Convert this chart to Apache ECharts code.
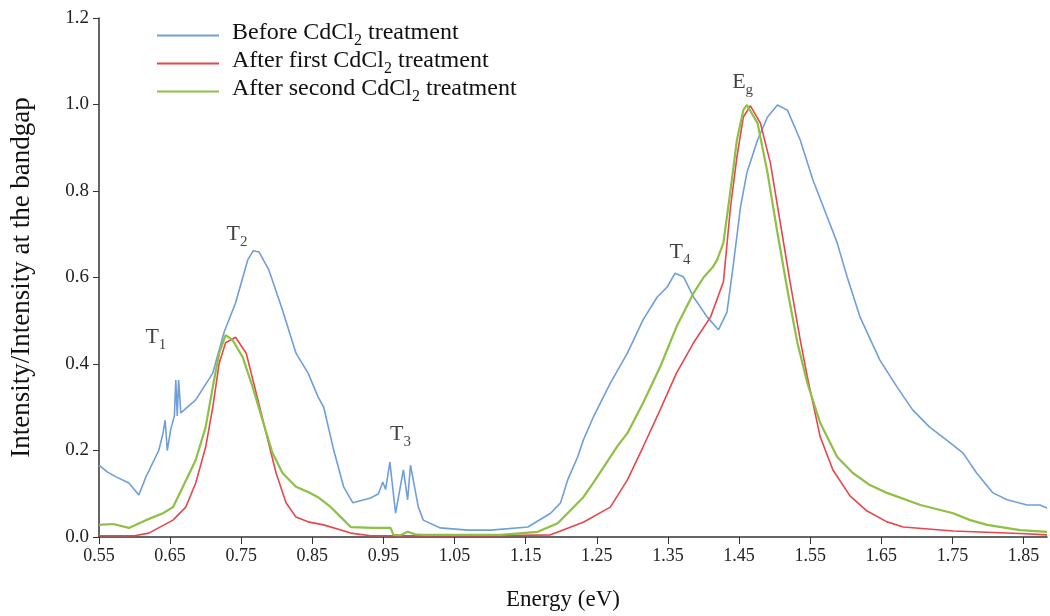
<!DOCTYPE html>
<html>
<head>
<meta charset="utf-8">
<script src="https://cdn.jsdelivr.net/npm/echarts@6/dist/echarts.min.js"></script>
<style>html,body{margin:0;padding:0;background:#fff}#c{width:1050px;height:616px}</style>
</head>
<body>
<div id="c"></div>
<script>
const seriesNames = ['Before CdCl2 treatment', 'After first CdCl2 treatment', 'After second CdCl2 treatment'];
const legendLabels = [['Before CdCl', '2', ' treatment'], ['After first CdCl', '2', ' treatment'], ['After second CdCl', '2', ' treatment']];
const xTicks = [0.55, 0.65, 0.75, 0.85, 0.95, 1.05, 1.15, 1.25, 1.35, 1.45, 1.55, 1.65, 1.75, 1.85];
const yTicks = [0, 0.2, 0.4, 0.6, 0.8, 1.0, 1.2];

const beforeE = [0.550,0.562,0.574,0.592,0.606,0.616,0.634,0.640,0.643,0.646,0.651,0.656,0.658,0.660,0.662,0.665,0.686,0.710,0.726,0.742,0.759,0.767,0.775,0.789,0.808,0.827,0.844,0.858,0.866,0.880,0.894,0.907,0.932,0.943,0.949,0.953,0.959,0.967,0.978,0.984,0.988,0.999,1.006,1.030,1.068,1.101,1.153,1.185,1.199,1.209,1.223,1.231,1.245,1.269,1.293,1.315,1.335,1.349,1.360,1.372,1.386,1.405,1.421,1.433,1.442,1.452,1.461,1.476,1.490,1.504,1.518,1.536,1.554,1.574,1.588,1.602,1.620,1.648,1.672,1.694,1.718,1.742,1.765,1.784,1.807,1.827,1.855,1.873,1.883];
const beforeI = [0.166,0.150,0.139,0.125,0.097,0.139,0.200,0.240,0.270,0.200,0.250,0.280,0.363,0.280,0.363,0.287,0.317,0.379,0.474,0.541,0.640,0.662,0.659,0.617,0.525,0.425,0.379,0.324,0.300,0.201,0.116,0.079,0.090,0.100,0.127,0.110,0.173,0.055,0.155,0.086,0.166,0.069,0.039,0.021,0.016,0.016,0.023,0.055,0.079,0.132,0.185,0.224,0.277,0.356,0.425,0.502,0.555,0.578,0.610,0.601,0.555,0.509,0.479,0.520,0.630,0.763,0.842,0.918,0.971,0.999,0.987,0.918,0.825,0.740,0.680,0.601,0.509,0.409,0.347,0.294,0.254,0.224,0.194,0.148,0.102,0.086,0.074,0.074,0.067];

const firstE = [0.550,0.600,0.620,0.654,0.672,0.686,0.700,0.710,0.719,0.728,0.742,0.757,0.771,0.785,0.799,0.813,0.827,0.844,0.866,0.890,0.904,0.932,1.100,1.185,1.231,1.269,1.293,1.315,1.339,1.362,1.386,1.410,1.428,1.438,1.447,1.456,1.466,1.480,1.494,1.508,1.522,1.536,1.546,1.564,1.582,1.606,1.630,1.658,1.681,1.751,1.845,1.883];
const firstI = [0.003,0.003,0.009,0.039,0.069,0.125,0.208,0.300,0.402,0.449,0.462,0.425,0.333,0.240,0.148,0.079,0.046,0.035,0.028,0.016,0.009,0.003,0.003,0.005,0.034,0.069,0.132,0.208,0.294,0.379,0.449,0.509,0.590,0.763,0.879,0.971,0.997,0.957,0.865,0.726,0.587,0.456,0.370,0.232,0.155,0.095,0.060,0.035,0.023,0.014,0.008,0.005];

const secondE = [0.550,0.570,0.592,0.616,0.640,0.654,0.668,0.686,0.700,0.710,0.719,0.728,0.738,0.752,0.766,0.780,0.794,0.808,0.827,0.844,0.858,0.876,0.890,0.904,0.936,0.960,0.964,0.974,0.984,0.995,1.006,1.115,1.167,1.195,1.231,1.245,1.279,1.293,1.315,1.339,1.362,1.386,1.400,1.413,1.419,1.428,1.438,1.447,1.456,1.461,1.476,1.490,1.504,1.518,1.532,1.546,1.564,1.588,1.610,1.634,1.658,1.705,1.751,1.775,1.799,1.845,1.883];
const secondI = [0.028,0.030,0.021,0.039,0.055,0.069,0.116,0.178,0.254,0.347,0.425,0.467,0.455,0.416,0.347,0.270,0.194,0.148,0.116,0.104,0.092,0.069,0.046,0.023,0.021,0.021,0.005,0.004,0.012,0.006,0.005,0.005,0.012,0.032,0.092,0.125,0.210,0.240,0.310,0.393,0.486,0.564,0.600,0.624,0.640,0.680,0.802,0.918,0.987,0.999,0.957,0.842,0.703,0.571,0.449,0.356,0.264,0.185,0.148,0.120,0.102,0.074,0.055,0.039,0.028,0.016,0.012];

const annotE = [0.630, 0.744, 0.974, 1.367, 1.455];
const annotI = [0.455, 0.694, 0.231, 0.652, 1.045];
const annotMain = ['T', 'T', 'T', 'T', 'E'];
const annotSub = ['1', '2', '3', '4', 'g'];

const colors = ['#6f9fd8', '#e5474d', '#8dc043'];
const zip = (a, b) => a.map((v, i) => [v, b[i]]);
const font = 'Liberation Serif';

const chart = echarts.init(document.getElementById('c'));
chart.setOption({
  animation: false,
  backgroundColor: '#fff',
  grid: { left: 98, right: 3, top: 18, bottom: 79 },
  legend: {
    data: seriesNames,
    orient: 'vertical',
    left: 152, top: 16,
    icon: 'rect', itemWidth: 62, itemHeight: 2, itemGap: 0,
    formatter: name => {
      const p = legendLabels[seriesNames.indexOf(name)];
      return '{n|' + p[0] + '}{s|' + p[1] + '}{n|' + p[2] + '}';
    },
    textStyle: {
      fontFamily: font, fontSize: 24, color: '#111', padding: [0, 0, 0, 8],
      rich: {
        n: { fontFamily: font, fontSize: 24, color: '#111', verticalAlign: 'bottom', lineHeight: 27, padding: [0, 0, 4, 0] },
        s: { fontFamily: font, fontSize: 16, color: '#111', verticalAlign: 'bottom', lineHeight: 16 }
      }
    }
  },
  xAxis: {
    type: 'value', min: 0.55, max: 1.883,
    name: 'Energy (eV)', nameLocation: 'middle', nameGap: 51,
    nameTextStyle: { fontFamily: font, fontSize: 23, color: '#111', padding: [0, 20, 0, 0] },
    axisLine: { lineStyle: { color: '#333', width: 1.5 } },
    axisTick: { show: true, customValues: xTicks, length: 7, lineStyle: { color: '#333' } },
    axisLabel: { customValues: xTicks, formatter: v => v.toFixed(2), fontFamily: font, fontSize: 18, color: '#222', margin: 10 },
    splitLine: { show: false }
  },
  yAxis: {
    type: 'value', min: 0, max: 1.2, interval: 0.2,
    name: 'Intensity/Intensity at the bandgap', nameLocation: 'middle', nameGap: 64,
    nameTextStyle: { fontFamily: font, fontSize: 27, color: '#111' },
    axisLine: { show: true, lineStyle: { color: '#333', width: 1.5 } },
    axisTick: { show: true, length: 6, lineStyle: { color: '#333' } },
    axisLabel: { formatter: v => v.toFixed(1), fontFamily: font, fontSize: 19, color: '#222', margin: 10 },
    splitLine: { show: false }
  },
  series: [
    { name: seriesNames[0], type: 'line', data: zip(beforeE, beforeI), showSymbol: false, color: colors[0], lineStyle: { width: 1.6, color: colors[0] }, z: 2 },
    { name: seriesNames[1], type: 'line', data: zip(firstE, firstI), showSymbol: false, color: colors[1], lineStyle: { width: 1.6, color: colors[1] }, z: 3 },
    { name: seriesNames[2], type: 'line', data: zip(secondE, secondI), showSymbol: false, color: colors[2], lineStyle: { width: 2.2, color: colors[2] }, z: 4 },
    {
      name: 'labels', type: 'scatter', symbolSize: 0, z: 10,
      data: annotE.map((e, i) => ({ value: [e, annotI[i]], m: annotMain[i], s: annotSub[i] })),
      label: {
        show: true, position: 'inside',
        formatter: p => '{n|' + p.data.m + '}{s|' + p.data.s + '}',
        rich: {
          n: { fontFamily: font, fontSize: 22, color: '#111', verticalAlign: 'bottom', lineHeight: 25, padding: [0, 0, 4, 0] },
          s: { fontFamily: font, fontSize: 15, color: '#111', verticalAlign: 'bottom', lineHeight: 15 }
        }
      },
      silent: true
    }
  ]
});
</script>
</body>
</html>
